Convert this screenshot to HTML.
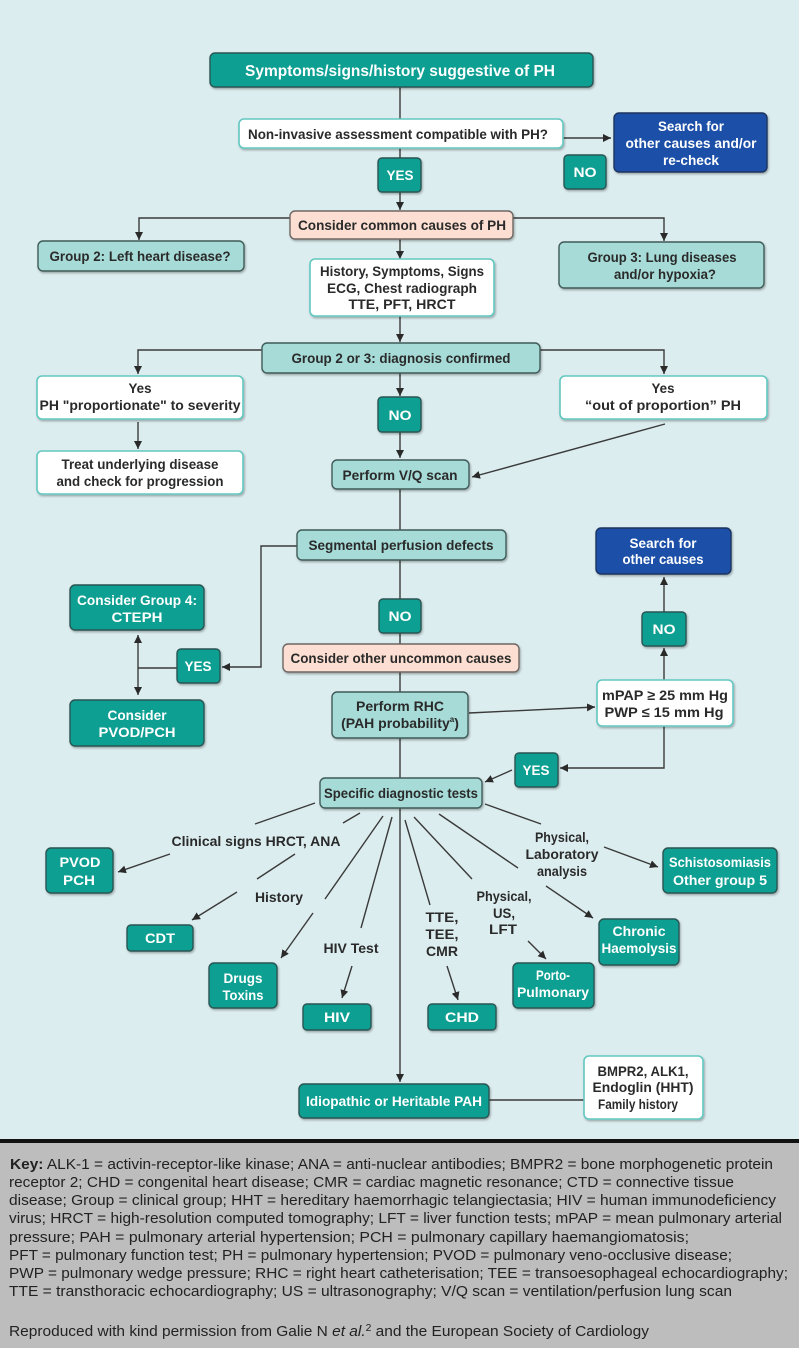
<!DOCTYPE html>
<html><head><meta charset="utf-8">
<style>
html,body{margin:0;padding:0;background:#dcedef;}
svg{display:block;}
.t{font-family:"Liberation Sans",sans-serif;font-weight:bold;font-size:14px;text-anchor:middle;fill:#2a2a2a;}
.wt{fill:#ffffff;}
.k{font-family:"Liberation Sans",sans-serif;font-size:15px;fill:#222;}
.d{fill:#0f9f92;stroke:#2c5553;stroke-width:1.4;}
.l{fill:#a6dbd7;stroke:#3f5b59;stroke-width:1.4;}
.p{fill:#fcdfd2;stroke:#6e6662;stroke-width:1.4;}
.w{fill:#ffffff;stroke:#62c7c0;stroke-width:1.6;}
.n{fill:#1d4fa7;stroke:#1f3460;stroke-width:1.4;}
.c{fill:none;stroke:#3a3a3a;stroke-width:1.4;}
</style></head>
<body>
<svg width="799" height="1348" viewBox="0 0 799 1348" xmlns="http://www.w3.org/2000/svg">
<defs>
<marker id="a" markerUnits="userSpaceOnUse" markerWidth="9" markerHeight="8" refX="8" refY="4" orient="auto">
<path d="M0,0 L8,4 L0,8 z" fill="#2a2a2a"/>
</marker>
<marker id="as" markerUnits="userSpaceOnUse" markerWidth="9" markerHeight="8" refX="0" refY="4" orient="auto">
<path d="M8,0 L0,4 L8,8 z" fill="#2a2a2a"/>
</marker>
<filter id="s" x="-10%" y="-10%" width="120%" height="140%">
<feDropShadow dx="1" dy="1.5" stdDeviation="1" flood-color="#000" flood-opacity="0.3"/>
</filter>
</defs>

<rect x="0" y="0" width="799" height="1140" fill="#dcedef"/>
<rect x="0" y="1139" width="799" height="4" fill="#111"/>
<rect x="0" y="1143" width="799" height="205" fill="#bdbdbd"/>

<!-- connectors -->
<line class="c" x1="400" y1="87" x2="400" y2="158"/>
<line class="c" x1="400" y1="192" x2="400" y2="210" marker-end="url(#a)"/>
<line class="c" x1="563" y1="138" x2="611" y2="138" marker-end="url(#a)"/>
<polyline class="c" points="290,218 139,218 139,240" marker-end="url(#a)"/>
<polyline class="c" points="513,218 664,218 664,241" marker-end="url(#a)"/>
<line class="c" x1="400" y1="239" x2="400" y2="259" marker-end="url(#a)"/>
<line class="c" x1="400" y1="316" x2="400" y2="342" marker-end="url(#a)"/>
<polyline class="c" points="262,350 138,350 138,374" marker-end="url(#a)"/>
<polyline class="c" points="540,350 664,350 664,374" marker-end="url(#a)"/>
<line class="c" x1="400" y1="373" x2="400" y2="396" marker-end="url(#a)"/>
<line class="c" x1="400" y1="432" x2="400" y2="458" marker-end="url(#a)"/>
<line class="c" x1="138" y1="422" x2="138" y2="449" marker-end="url(#a)"/>
<line class="c" x1="665" y1="424" x2="472" y2="477" marker-end="url(#a)"/>
<line class="c" x1="400" y1="489" x2="400" y2="1082" marker-end="url(#a)"/>
<polyline class="c" points="297,546 261,546 261,667 222,667" marker-end="url(#a)"/>
<line class="c" x1="177" y1="668" x2="138" y2="668"/>
<line class="c" x1="138" y1="635" x2="138" y2="695" marker-start="url(#as)" marker-end="url(#a)"/>
<line class="c" x1="469" y1="713" x2="595" y2="707" marker-end="url(#a)"/>
<line class="c" x1="664" y1="680" x2="664" y2="648" marker-end="url(#a)"/>
<line class="c" x1="664" y1="612" x2="664" y2="577" marker-end="url(#a)"/>
<polyline class="c" points="664,726 664,768 560,768" marker-end="url(#a)"/>
<line class="c" x1="512" y1="770" x2="485" y2="782" marker-end="url(#a)"/>

<!-- fan -->
<line class="c" x1="315" y1="803" x2="255" y2="824"/>
<line class="c" x1="170" y1="854" x2="118" y2="872" marker-end="url(#a)"/>
<line class="c" x1="360" y1="813" x2="343" y2="823"/>
<line class="c" x1="295" y1="854" x2="257" y2="879"/>
<line class="c" x1="237" y1="892" x2="192" y2="920" marker-end="url(#a)"/>
<line class="c" x1="383" y1="816" x2="325" y2="899"/>
<line class="c" x1="313" y1="913" x2="281" y2="958" marker-end="url(#a)"/>
<line class="c" x1="392" y1="817" x2="361" y2="928"/>
<line class="c" x1="352" y1="966" x2="342" y2="998" marker-end="url(#a)"/>
<line class="c" x1="405" y1="820" x2="430" y2="905"/>
<line class="c" x1="447" y1="966" x2="458" y2="1000" marker-end="url(#a)"/>
<line class="c" x1="414" y1="817" x2="472" y2="879"/>
<line class="c" x1="528" y1="941" x2="546" y2="959" marker-end="url(#a)"/>
<line class="c" x1="439" y1="814" x2="518" y2="868"/>
<line class="c" x1="546" y1="886" x2="593" y2="918" marker-end="url(#a)"/>
<line class="c" x1="485" y1="804" x2="541" y2="824"/>
<line class="c" x1="604" y1="847" x2="658" y2="867" marker-end="url(#a)"/>
<line class="c" x1="489" y1="1100" x2="584" y2="1100"/>

<!-- boxes -->
<g filter="url(#s)">
<rect class="d" x="210" y="53" width="383" height="34" rx="5"/>
<rect class="w" x="239" y="119" width="324" height="29" rx="5"/>
<rect class="d" x="378" y="158" width="43" height="34" rx="4"/>
<rect class="n" x="614" y="113" width="153" height="59" rx="5"/>
<rect class="d" x="564" y="155" width="42" height="34" rx="4"/>
<rect class="p" x="290" y="211" width="223" height="28" rx="5"/>
<rect class="l" x="38" y="241" width="206" height="30" rx="5"/>
<rect class="l" x="559" y="242" width="205" height="46" rx="5"/>
<rect class="w" x="310" y="259" width="184" height="57" rx="5"/>
<rect class="l" x="262" y="343" width="278" height="30" rx="5"/>
<rect class="w" x="37" y="376" width="206" height="43" rx="5"/>
<rect class="w" x="560" y="376" width="207" height="43" rx="5"/>
<rect class="d" x="378" y="397" width="43" height="35" rx="4"/>
<rect class="w" x="37" y="451" width="206" height="43" rx="5"/>
<rect class="l" x="332" y="460" width="137" height="29" rx="5"/>
<rect class="l" x="297" y="530" width="209" height="30" rx="5"/>
<rect class="n" x="596" y="528" width="135" height="46" rx="5"/>
<rect class="d" x="70" y="585" width="134" height="45" rx="5"/>
<rect class="d" x="379" y="599" width="42" height="34" rx="4"/>
<rect class="d" x="642" y="612" width="44" height="34" rx="4"/>
<rect class="p" x="283" y="644" width="236" height="28" rx="5"/>
<rect class="d" x="177" y="649" width="43" height="34" rx="4"/>
<rect class="w" x="597" y="680" width="136" height="46" rx="5"/>
<rect class="l" x="332" y="692" width="136" height="46" rx="5"/>
<rect class="d" x="70" y="700" width="134" height="46" rx="5"/>
<rect class="d" x="515" y="753" width="43" height="34" rx="4"/>
<rect class="l" x="320" y="778" width="162" height="30" rx="5"/>
<rect class="d" x="46" y="848" width="67" height="45" rx="5"/>
<rect class="d" x="663" y="848" width="114" height="45" rx="5"/>
<rect class="d" x="599" y="919" width="80" height="46" rx="5"/>
<rect class="d" x="127" y="925" width="66" height="26" rx="4"/>
<rect class="d" x="209" y="963" width="68" height="45" rx="5"/>
<rect class="d" x="513" y="963" width="81" height="45" rx="5"/>
<rect class="d" x="303" y="1004" width="68" height="26" rx="4"/>
<rect class="d" x="428" y="1004" width="68" height="26" rx="4"/>
<rect class="w" x="584" y="1056" width="119" height="63" rx="5"/>
<rect class="d" x="299" y="1084" width="190" height="34" rx="5"/>
</g>

<!-- box text -->
<text class="t wt" x="400" y="76" style="font-size:16px" textLength="310" lengthAdjust="spacingAndGlyphs">Symptoms/signs/history suggestive of PH</text>
<text class="t" x="398" y="139" textLength="300" lengthAdjust="spacingAndGlyphs">Non-invasive assessment compatible with PH?</text>
<text class="t wt" x="400" y="180" textLength="27" lengthAdjust="spacingAndGlyphs">YES</text>
<text class="t wt" x="691" y="131" textLength="66" lengthAdjust="spacingAndGlyphs">Search for</text>
<text class="t wt" x="691" y="148" textLength="131" lengthAdjust="spacingAndGlyphs">other causes and/or</text>
<text class="t wt" x="691" y="165" textLength="56" lengthAdjust="spacingAndGlyphs">re-check</text>
<text class="t wt" x="585" y="177" textLength="23" lengthAdjust="spacingAndGlyphs">NO</text>
<text class="t" x="402" y="230" textLength="208" lengthAdjust="spacingAndGlyphs">Consider common causes of PH</text>
<text class="t" x="140" y="261" textLength="181" lengthAdjust="spacingAndGlyphs">Group 2: Left heart disease?</text>
<text class="t" x="662" y="262" textLength="149" lengthAdjust="spacingAndGlyphs">Group 3: Lung diseases</text>
<text class="t" x="665" y="279" textLength="102" lengthAdjust="spacingAndGlyphs">and/or hypoxia?</text>
<text class="t" x="402" y="276" textLength="164" lengthAdjust="spacingAndGlyphs">History, Symptoms, Signs</text>
<text class="t" x="402" y="293" textLength="150" lengthAdjust="spacingAndGlyphs">ECG, Chest radiograph</text>
<text class="t" x="402" y="309" textLength="107" lengthAdjust="spacingAndGlyphs">TTE, PFT, HRCT</text>
<text class="t" x="401" y="363" textLength="219" lengthAdjust="spacingAndGlyphs">Group 2 or 3: diagnosis confirmed</text>
<text class="t" x="140" y="393" textLength="23" lengthAdjust="spacingAndGlyphs">Yes</text>
<text class="t" x="140" y="410" textLength="201" lengthAdjust="spacingAndGlyphs">PH "proportionate" to severity</text>
<text class="t" x="663" y="393" textLength="23" lengthAdjust="spacingAndGlyphs">Yes</text>
<text class="t" x="663" y="410" textLength="156" lengthAdjust="spacingAndGlyphs">“out of proportion” PH</text>
<text class="t wt" x="400" y="420" textLength="23" lengthAdjust="spacingAndGlyphs">NO</text>
<text class="t" x="140" y="469" textLength="157" lengthAdjust="spacingAndGlyphs">Treat underlying disease</text>
<text class="t" x="140" y="486" textLength="167" lengthAdjust="spacingAndGlyphs">and check for progression</text>
<text class="t" x="400" y="480" textLength="115" lengthAdjust="spacingAndGlyphs">Perform V/Q scan</text>
<text class="t" x="401" y="550" textLength="185" lengthAdjust="spacingAndGlyphs">Segmental perfusion defects</text>
<text class="t wt" x="663" y="548" textLength="67" lengthAdjust="spacingAndGlyphs">Search for</text>
<text class="t wt" x="663" y="564" textLength="81" lengthAdjust="spacingAndGlyphs">other causes</text>
<text class="t wt" x="137" y="605" textLength="120" lengthAdjust="spacingAndGlyphs">Consider Group 4:</text>
<text class="t wt" x="137" y="622" textLength="51" lengthAdjust="spacingAndGlyphs">CTEPH</text>
<text class="t wt" x="400" y="621" textLength="23" lengthAdjust="spacingAndGlyphs">NO</text>
<text class="t wt" x="664" y="634" textLength="23" lengthAdjust="spacingAndGlyphs">NO</text>
<text class="t" x="401" y="663" textLength="221" lengthAdjust="spacingAndGlyphs">Consider other uncommon causes</text>
<text class="t wt" x="198" y="671" textLength="27" lengthAdjust="spacingAndGlyphs">YES</text>
<text class="t" x="665" y="700" textLength="126" lengthAdjust="spacingAndGlyphs">mPAP ≥ 25 mm Hg</text>
<text class="t" x="664" y="717" textLength="119" lengthAdjust="spacingAndGlyphs">PWP ≤ 15 mm Hg</text>
<text class="t" x="400" y="711" textLength="88" lengthAdjust="spacingAndGlyphs">Perform RHC</text>
<text class="t" x="400" y="728">(PAH probability<tspan style="font-size:8px" dy="-6">a</tspan><tspan dy="6">)</tspan></text>
<text class="t wt" x="137" y="720" textLength="59" lengthAdjust="spacingAndGlyphs">Consider</text>
<text class="t wt" x="137" y="737" textLength="77" lengthAdjust="spacingAndGlyphs">PVOD/PCH</text>
<text class="t wt" x="536" y="775" textLength="27" lengthAdjust="spacingAndGlyphs">YES</text>
<text class="t" x="401" y="798" textLength="154" lengthAdjust="spacingAndGlyphs">Specific diagnostic tests</text>

<!-- fan labels -->
<text class="t" x="256" y="846" textLength="169" lengthAdjust="spacingAndGlyphs">Clinical signs HRCT, ANA</text>
<text class="t" x="279" y="902" textLength="48" lengthAdjust="spacingAndGlyphs">History</text>
<text class="t" x="351" y="953" textLength="55" lengthAdjust="spacingAndGlyphs">HIV Test</text>
<text class="t" x="442" y="922" textLength="33" lengthAdjust="spacingAndGlyphs">TTE,</text>
<text class="t" x="442" y="939" textLength="33" lengthAdjust="spacingAndGlyphs">TEE,</text>
<text class="t" x="442" y="956" textLength="32" lengthAdjust="spacingAndGlyphs">CMR</text>
<text class="t" x="504" y="901" textLength="55" lengthAdjust="spacingAndGlyphs">Physical,</text>
<text class="t" x="504" y="918" textLength="22" lengthAdjust="spacingAndGlyphs">US,</text>
<text class="t" x="503" y="934" textLength="28" lengthAdjust="spacingAndGlyphs">LFT</text>
<text class="t" x="562" y="842" textLength="54" lengthAdjust="spacingAndGlyphs">Physical,</text>
<text class="t" x="562" y="859" textLength="73" lengthAdjust="spacingAndGlyphs">Laboratory</text>
<text class="t" x="562" y="876" textLength="50" lengthAdjust="spacingAndGlyphs">analysis</text>

<!-- fan box labels -->
<text class="t wt" x="80" y="867" textLength="41" lengthAdjust="spacingAndGlyphs">PVOD</text>
<text class="t wt" x="79" y="885" textLength="32" lengthAdjust="spacingAndGlyphs">PCH</text>
<text class="t wt" x="720" y="867" textLength="102" lengthAdjust="spacingAndGlyphs">Schistosomiasis</text>
<text class="t wt" x="720" y="885" textLength="94" lengthAdjust="spacingAndGlyphs">Other group 5</text>
<text class="t wt" x="639" y="936" textLength="53" lengthAdjust="spacingAndGlyphs">Chronic</text>
<text class="t wt" x="639" y="953" textLength="75" lengthAdjust="spacingAndGlyphs">Haemolysis</text>
<text class="t wt" x="160" y="943" textLength="30" lengthAdjust="spacingAndGlyphs">CDT</text>
<text class="t wt" x="243" y="983" textLength="39" lengthAdjust="spacingAndGlyphs">Drugs</text>
<text class="t wt" x="243" y="1000" textLength="41" lengthAdjust="spacingAndGlyphs">Toxins</text>
<text class="t wt" x="553" y="980" textLength="34" lengthAdjust="spacingAndGlyphs">Porto-</text>
<text class="t wt" x="553" y="997" textLength="72" lengthAdjust="spacingAndGlyphs">Pulmonary</text>
<text class="t wt" x="337" y="1022" textLength="26" lengthAdjust="spacingAndGlyphs">HIV</text>
<text class="t wt" x="462" y="1022" textLength="34" lengthAdjust="spacingAndGlyphs">CHD</text>
<text class="t wt" x="394" y="1106" textLength="176" lengthAdjust="spacingAndGlyphs">Idiopathic or Heritable PAH</text>
<text class="t" x="643" y="1076" textLength="91" lengthAdjust="spacingAndGlyphs">BMPR2, ALK1,</text>
<text class="t" x="643" y="1092" textLength="101" lengthAdjust="spacingAndGlyphs">Endoglin (HHT)</text>
<text class="t" x="638" y="1109" textLength="80" lengthAdjust="spacingAndGlyphs">Family history</text>

<!-- key -->
<text class="k" x="10" y="1169" textLength="763" lengthAdjust="spacingAndGlyphs"><tspan font-weight="bold">Key:</tspan> ALK-1 = activin-receptor-like kinase; ANA = anti-nuclear antibodies; BMPR2 = bone morphogenetic protein</text>
<text class="k" x="9" y="1187" textLength="725" lengthAdjust="spacingAndGlyphs">receptor 2; CHD = congenital heart disease; CMR = cardiac magnetic resonance; CTD = connective tissue</text>
<text class="k" x="9" y="1205" textLength="767" lengthAdjust="spacingAndGlyphs">disease; Group = clinical group; HHT = hereditary haemorrhagic telangiectasia; HIV = human immunodeficiency</text>
<text class="k" x="9" y="1223" textLength="773" lengthAdjust="spacingAndGlyphs">virus; HRCT = high-resolution computed tomography; LFT = liver function tests; mPAP = mean pulmonary arterial</text>
<text class="k" x="9" y="1242" textLength="680" lengthAdjust="spacingAndGlyphs">pressure; PAH = pulmonary arterial hypertension; PCH = pulmonary capillary haemangiomatosis;</text>
<text class="k" x="9" y="1260" textLength="723" lengthAdjust="spacingAndGlyphs">PFT = pulmonary function test; PH = pulmonary hypertension; PVOD = pulmonary veno-occlusive disease;</text>
<text class="k" x="9" y="1278" textLength="779" lengthAdjust="spacingAndGlyphs">PWP = pulmonary wedge pressure; RHC = right heart catheterisation; TEE = transoesophageal echocardiography;</text>
<text class="k" x="9" y="1296" textLength="723" lengthAdjust="spacingAndGlyphs">TTE = transthoracic echocardiography; US = ultrasonography; V/Q scan = ventilation/perfusion lung scan</text>
<text class="k" x="9" y="1336" textLength="640" lengthAdjust="spacingAndGlyphs">Reproduced with kind permission from Galie N <tspan font-style="italic">et al.</tspan><tspan font-size="10" dy="-5">2</tspan><tspan dy="5"> and the European Society of Cardiology</tspan></text>
</svg>
</body></html>
